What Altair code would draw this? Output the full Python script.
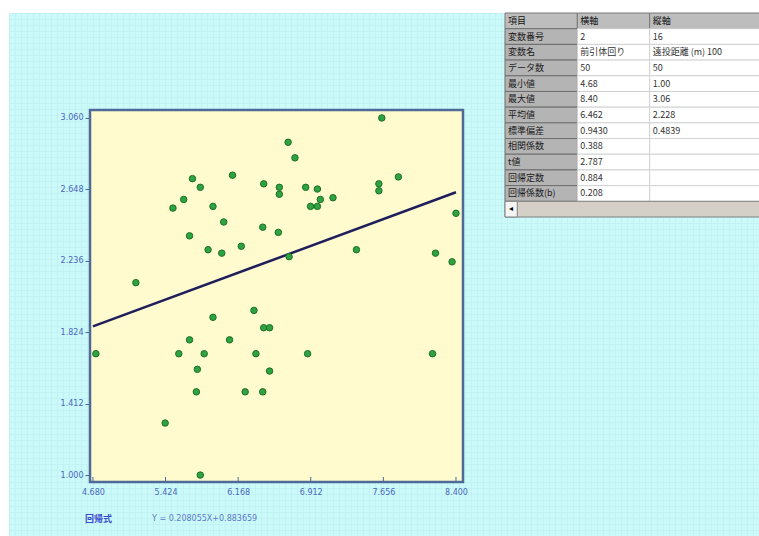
import altair as alt
import pandas as pd

# 横軸 / 縦軸 values of each observation
x_vals = [4.71, 5.12, 5.42, 5.50, 5.61, 5.70, 5.78, 5.67, 5.86, 5.91,
          6.00, 6.02, 6.11, 6.20, 5.91, 5.67, 6.08, 5.56, 5.82, 5.75,
          5.74, 5.78, 7.64, 6.68, 6.75, 6.43, 6.59, 6.59, 6.86, 6.98,
          7.01, 7.14, 6.91, 6.98, 7.61, 7.61, 7.81, 8.40, 6.42, 6.58,
          6.69, 7.38, 8.19, 8.36, 6.33, 6.43, 6.49, 6.35, 6.88, 8.16,
          6.49, 6.24, 6.42]
y_vals = [1.70, 2.11, 1.30, 2.54, 2.59, 2.71, 2.66, 2.38, 2.30, 2.55,
          2.28, 2.46, 2.73, 2.32, 1.91, 1.78, 1.78, 1.70, 1.70, 1.61,
          1.48, 1.00, 3.06, 2.92, 2.83, 2.68, 2.66, 2.62, 2.66, 2.65,
          2.59, 2.60, 2.55, 2.55, 2.68, 2.64, 2.72, 2.51, 2.43, 2.40,
          2.26, 2.30, 2.28, 2.23, 1.95, 1.85, 1.85, 1.70, 1.70, 1.70,
          1.60, 1.48, 1.48]

x_ticks = [4.680, 5.424, 6.168, 6.912, 7.656, 8.400]
y_ticks = [1.000, 1.412, 1.824, 2.236, 2.648, 3.060]

# regression Y = slope * X + intercept
slope = 0.208055
intercept = 0.883659

# statistics table
row_names = ["項目", "変数番号", "変数名", "データ数", "最小値", "最大値", "平均値",
             "標準偏差", "相関係数", "t値", "回帰定数", "回帰係数(b)"]
col_h = ["横軸", "2", "前引体回り", "50", " 4.68", " 8.40", " 6.462",
         " 0.9430", " 0.388", " 2.787", " 0.884", " 0.208"]
col_v = ["縦軸", "16", "遠投距離 (m) 100", "50", " 1.00", " 3.06", " 2.228",
         " 0.4839", "", "", "", ""]

# ---------------------------------------------------------------- styles
CYAN = "#ccfafa"
TEXTURE = "#c2f3f3"
YELLOW = "#fffbcf"
FRAME = "#4d6a98"
LABEL_BLUE = "#4a66c0"
FONT = "Noto Sans CJK JP"

# plot frame extents in data units and their pixel span inside the view
X_DOM = [4.65, 8.472]
Y_DOM = [0.96, 3.106]
X_RANGE = [81, 454]
Y_RANGE = [469, 97]

xs = alt.Scale(domain=X_DOM, range=X_RANGE, zero=False, nice=False)
ys = alt.Scale(domain=Y_DOM, range=Y_RANGE, zero=False, nice=False)

x_axis = alt.Axis(values=x_ticks, format=".3f", offset=-54, domain=False, grid=False,
                  ticks=False, labelPadding=6, labelColor=LABEL_BLUE, labelFontSize=8,
                  labelFont="DejaVu Sans", title=None, labelFlush=False)
y_axis = alt.Axis(values=y_ticks, format=".3f", offset=-81, domain=False, grid=False,
                  tickSize=5, tickColor=FRAME, labelPadding=2, labelColor=LABEL_BLUE,
                  labelFontSize=8, labelFont="DejaVu Sans", title=None, labelFlush=False)

pts = pd.DataFrame({"x": x_vals, "y": y_vals})
line_df = pd.DataFrame({"x": [x_ticks[0], x_ticks[-1]]})
line_df["y"] = slope * line_df["x"] + intercept
frame_df = pd.DataFrame({"x": [X_DOM[0]], "x2": [X_DOM[1]], "y": [Y_DOM[0]], "y2": [Y_DOM[1]]})
tick_df = pd.DataFrame({"x": x_ticks})

frame = alt.Chart(frame_df).mark_rect(fill=YELLOW, stroke=FRAME, strokeWidth=2.5).encode(
    x=alt.X("x:Q", scale=xs, axis=x_axis),
    x2="x2:Q",
    y=alt.Y("y:Q", scale=ys, axis=y_axis),
    y2="y2:Q",
)

inner_ticks = alt.Chart(tick_df).mark_rule(color=FRAME, strokeWidth=1).encode(
    x=alt.X("x:Q", scale=xs),
    y=alt.value(Y_RANGE[0] - 5),
    y2=alt.value(Y_RANGE[0]),
)

reg_line = alt.Chart(line_df).mark_line(color="#1f1f5c", strokeWidth=2.5).encode(
    x=alt.X("x:Q", scale=xs),
    y=alt.Y("y:Q", scale=ys),
)

points = alt.Chart(pts).mark_circle(size=42, color="#2fa33f", stroke="#1c6f29",
                                    strokeWidth=1, opacity=1).encode(
    x=alt.X("x:Q", scale=xs),
    y=alt.Y("y:Q", scale=ys),
)

eq_df = pd.DataFrame({"t": ["回帰式"], "f": [f"Y = {slope:.6f}X+{intercept:.6f}"]})
eq_label = alt.Chart(eq_df).mark_text(align="left", baseline="middle", font=FONT,
                                      fontSize=9, fontWeight="bold", color="#3a4ccc").encode(
    x=alt.value(76), y=alt.value(506), text="t:N")
eq_text = alt.Chart(eq_df).mark_text(align="left", baseline="middle", font="DejaVu Sans",
                                     fontSize=8, color="#5a78c8").encode(
    x=alt.value(143), y=alt.value(506), text="f:N")

scatter = alt.layer(frame, inner_ticks, reg_line, points, eq_label, eq_text)

# ---------------------------------------------------------------- table
rows = []
for i, name in enumerate(row_names):
    for c, txt in enumerate([name, col_h[i], col_v[i]]):
        if i == 0:
            kind = "head"
        elif c == 0:
            kind = "label"
        else:
            kind = "data"
        rows.append({"row": name, "c0": c, "c1": c + 1 if c < 2 else 3.6,
                     "text": txt, "kind": kind})
cells = pd.DataFrame(rows)
row_domain = row_names + ["scroll"]

tx = alt.Scale(domain=[0, 3], range=[496, 713], zero=False, nice=False)
ty = alt.Scale(domain=row_domain, range=[0, 204], paddingInner=0, paddingOuter=0)

cell_rects = alt.Chart(cells).mark_rect(strokeWidth=1).encode(
    x=alt.X("c0:Q", scale=tx, axis=None),
    x2="c1:Q",
    y=alt.Y("row:N", scale=ty, axis=None),
    fill=alt.Fill("kind:N", scale=alt.Scale(domain=["head", "label", "data"],
                                            range=["#bdbdbd", "#b4b4b4", "#ffffff"]),
                  legend=None),
    stroke=alt.Stroke("kind:N", scale=alt.Scale(domain=["head", "label", "data"],
                                                range=["#7a7a7a", "#6e6e6e", "#d2d2d2"]),
                      legend=None),
)

cell_text = alt.Chart(cells).mark_text(align="left", baseline="middle", font=FONT,
                                       fontSize=9, dx=3).encode(
    x=alt.X("c0:Q", scale=tx, axis=None),
    y=alt.Y("row:N", scale=ty, axis=None),
    text="text:N",
    color=alt.Color("kind:N", scale=alt.Scale(domain=["head", "label", "data"],
                                              range=["#111111", "#1a1a1a", "#333333"]),
                    legend=None),
)

scroll_df = pd.DataFrame({"row": ["scroll"], "c0": [0], "c1": [3.6], "b1": [0.17], "t": ["◂"]})
scroll_bar = alt.Chart(scroll_df).mark_rect(fill="#d4d0c8", stroke="#808080", strokeWidth=1).encode(
    x=alt.X("c0:Q", scale=tx, axis=None), x2="c1:Q",
    y=alt.Y("row:N", scale=ty, axis=None))
scroll_btn = alt.Chart(scroll_df).mark_rect(fill="#f4f4f4", stroke="#808080", strokeWidth=1).encode(
    x=alt.X("c0:Q", scale=tx, axis=None), x2="b1:Q",
    y=alt.Y("row:N", scale=ty, axis=None))
scroll_arrow = alt.Chart(scroll_df).mark_text(fontSize=8, color="#000000", dx=6).encode(
    x=alt.X("c0:Q", scale=tx, axis=None),
    y=alt.Y("row:N", scale=ty, axis=None), text="t:N")

table = alt.layer(cell_rects, cell_text, scroll_bar, scroll_btn, scroll_arrow)

# faint tiled texture of the window background, drawn as axis grid lines
grid_steps = list(range(0, 131))
texture = alt.Chart(pd.DataFrame({"g": [0]})).mark_point(opacity=0).encode(
    x=alt.X("g:Q", scale=alt.Scale(domain=[0, 125], range=[0, 750], nice=False, zero=False),
            axis=alt.Axis(orient="top", values=grid_steps, grid=True, gridColor=TEXTURE,
                          gridWidth=1, labels=False, ticks=False, domain=False, title=None)),
    y=alt.Y("g:Q", scale=alt.Scale(domain=[0, 87], range=[0, 523], nice=False, zero=False),
            axis=alt.Axis(orient="right", values=grid_steps, grid=True, gridColor=TEXTURE,
                          gridWidth=1, labels=False, ticks=False, domain=False, title=None)),
)

chart = alt.layer(texture, scatter, table).resolve_scale(
    x="independent", y="independent", fill="independent", stroke="independent",
    color="independent"
).properties(
    width=750, height=523,
    padding={"left": 9, "top": 13, "right": 0, "bottom": 0},
    autosize=alt.AutoSizeParams(type="none"),
).configure(background="#ffffff").configure_view(fill=CYAN, stroke=None)

chart.save("out.html", embed_options={"renderer": "svg", "actions": False})
